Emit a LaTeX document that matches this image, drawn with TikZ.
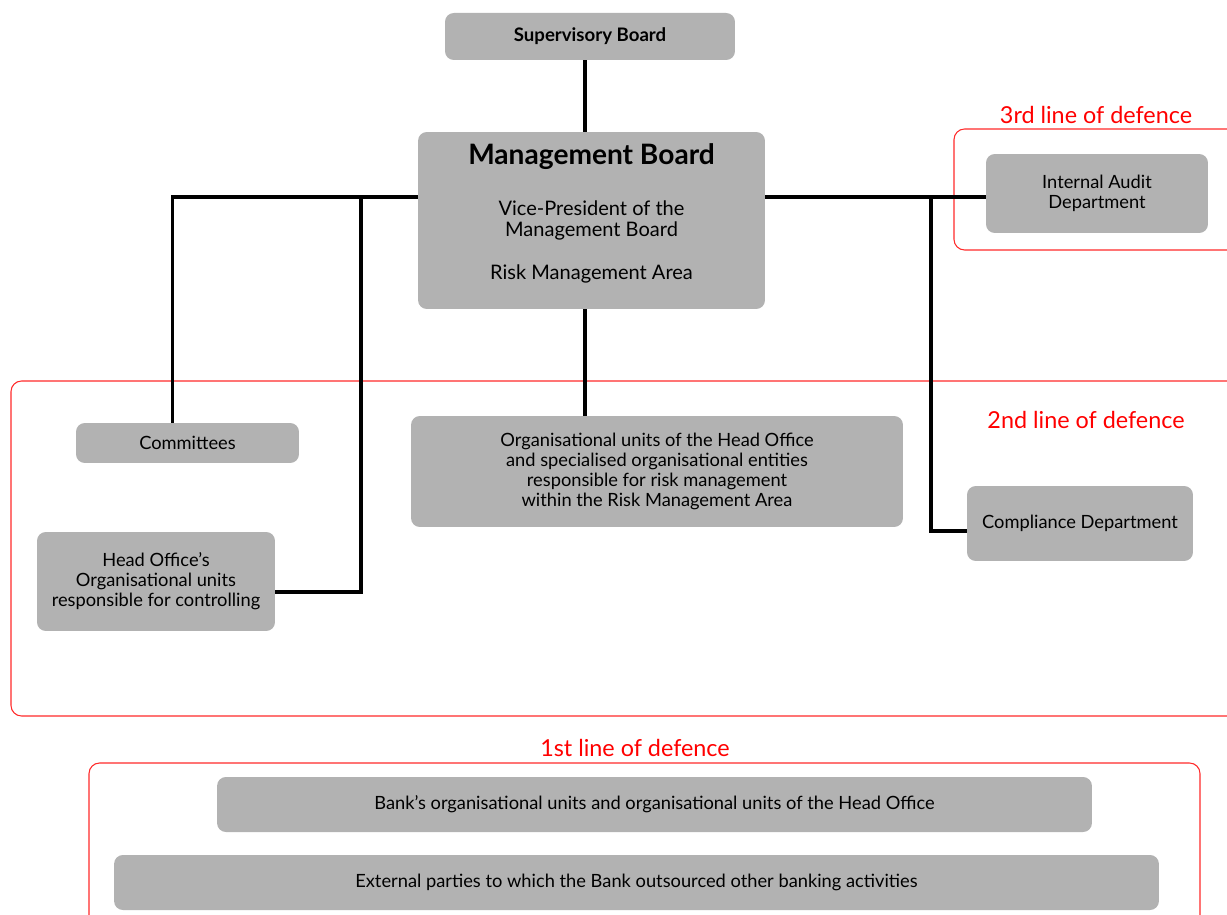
\documentclass[tikz,border=0pt]{standalone}
\usepackage{fontspec}
\setmainfont{Lato}
\definecolor{unitgray}{HTML}{B2B2B2}
\definecolor{defred}{HTML}{FF2A2A}
\begin{document}
\begin{tikzpicture}[x=0.02cm,y=-0.02cm,
  unit/.style={shape=rectangle,rounded corners=5pt,fill=unitgray,inner sep=0pt,align=center,font=\fontsize{10.4}{11.3}\selectfont},
  link/.style={line width=1.8pt},
  defbox/.style={draw=defred,line width=0.6pt,rounded corners=6pt},
  deflabel/.style={text=red,font=\fontsize{13.3}{15}\selectfont}]
\useasboundingbox (0,0) rectangle (1227,915);

% lines of defence
\draw[defbox] (954,129) rectangle (1250,250);
\draw[defbox] (11,381) rectangle (1250,716);
\draw[defbox] (89,763) rectangle (1200,940);
\node(l3) at (1096,115)[deflabel]{3rd line of defence};
\node(l2) at (1086,420)[deflabel]{2nd line of defence};
\node(l1) at (635,748)[deflabel]{1st line of defence};

\node(sb) at (590,36.5)[unit,minimum width=5.8cm,minimum height=0.94cm,font=\fontsize{10.6}{12}\selectfont\bfseries]{Supervisory Board};
\node(mb) at (591.5,220.5)[unit,minimum width=6.94cm,minimum height=3.54cm,font=\fontsize{11.4}{12}\selectfont]
  {{\fontsize{16}{18}\selectfont\bfseries Management Board}\\[0.6cm]
   Vice-President of the\\Management Board\\[0.44cm]Risk Management Area\\[-0.2cm]\strut};
\node(com) at (187.5,443)[unit,minimum width=4.46cm,minimum height=0.8cm]{Committees};
\node(hoc) at (156,581.5)[unit,minimum width=4.76cm,minimum height=1.98cm]
  {Head Office’s\\Organisational units\\responsible for controlling};
\node(org) at (657,471.5)[unit,minimum width=9.84cm,minimum height=2.22cm]
  {Organisational units of the Head Office\\and specialised organisational entities\\responsible for risk management\\within the Risk Management Area};
\node(cmp) at (1080,523.5)[unit,minimum width=4.52cm,minimum height=1.5cm]{Compliance Department};
\node(ia) at (1097,193.5)[unit,minimum width=4.44cm,minimum height=1.58cm]{Internal Audit\\Department};
\node(bank) at (654.5,804.5)[unit,minimum width=17.5cm,minimum height=1.1cm]
  {Bank’s organisational units and organisational units of the Head Office};
\node(ext) at (636.5,882.5)[unit,minimum width=20.9cm,minimum height=1.1cm]
  {External parties to which the Bank outsourced other banking activities};

\coordinate(lj) at (361,197);
\coordinate(rj) at (931,197);

\draw[link] (sb.south -| 585,0) -- (mb.north -| 585,0);
\draw[link] (mb.south -| 585,0) -- (org.north -| 585,0);
\draw[link] (mb.west |- lj) -| ([xshift=-0.3cm]com.north);
\draw[link] (lj) |- ([yshift=-0.21cm]hoc.east);
\draw[link] (mb.east |- rj) -- (ia.west |- rj);
\draw[link] (rj) |- ([yshift=-0.15cm]cmp.west);

\end{tikzpicture}
\end{document}
